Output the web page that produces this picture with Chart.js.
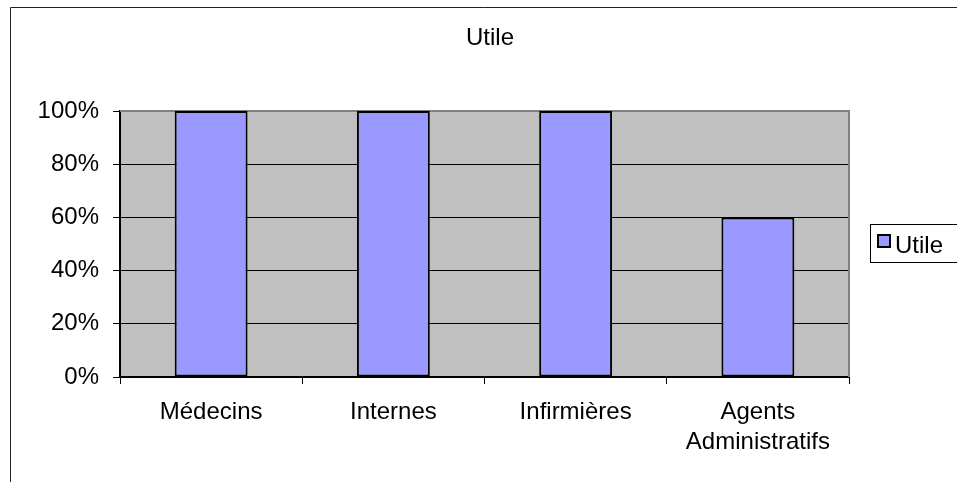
<!DOCTYPE html>
<html>
<head>
<meta charset="utf-8">
<script src="https://cdn.jsdelivr.net/npm/chart.js@4/dist/chart.umd.min.js"></script>
<style>
  html, body { margin: 0; padding: 0; background: #fff; }
  #wrap { width: 957px; height: 482px; position: relative; }
</style>
</head>
<body>
<div id="wrap"><canvas id="c" width="957" height="482"></canvas></div>
<script>
const chartTitle = 'Utile';
const categories = ['Médecins', 'Internes', 'Infirmières', ['Agents', 'Administratifs']];
const seriesName = 'Utile';
const seriesValues = [1.0, 1.0, 1.0, 0.6];
const yTicks = [0, 0.2, 0.4, 0.6, 0.8, 1.0];

const FONT = "Arial, 'Liberation Sans', sans-serif";
const FONT_SIZE = 24;
const BAR_FILL = '#9999FF';
const PLOT_BG = '#C0C0C0';

// Plot background, frame, title and legend box drawn around the Chart.js scales
const decor = {
  id: 'decor',
  beforeDraw(chart) {
    const { ctx, chartArea: a } = chart;
    ctx.save();
    ctx.fillStyle = '#fff';
    ctx.fillRect(0, 0, chart.width, chart.height);
    ctx.fillStyle = PLOT_BG;
    ctx.fillRect(a.left, a.top, a.right - a.left, a.bottom - a.top);
    ctx.restore();
  },
  beforeDatasetsDraw(chart) {
    const { ctx, chartArea: a } = chart;
    ctx.save();
    ctx.strokeStyle = '#808080';
    ctx.lineWidth = 2;
    ctx.beginPath();
    ctx.moveTo(a.left, a.top);
    ctx.lineTo(a.right, a.top);
    ctx.lineTo(a.right, a.bottom);
    ctx.stroke();
    ctx.restore();
  },
  afterDraw(chart) {
    const { ctx } = chart;
    ctx.save();
    // outer frame
    ctx.strokeStyle = '#222';
    ctx.lineWidth = 1;
    ctx.beginPath();
    ctx.moveTo(10.5, chart.height);
    ctx.lineTo(10.5, 7.5);
    ctx.lineTo(chart.width, 7.5);
    ctx.stroke();
    // title
    ctx.fillStyle = '#000';
    ctx.font = FONT_SIZE + 'px ' + FONT;
    ctx.textAlign = 'center';
    ctx.textBaseline = 'alphabetic';
    ctx.fillText(chartTitle, 490, 45);
    // legend
    ctx.strokeStyle = '#000';
    ctx.lineWidth = 1;
    ctx.strokeRect(870.5, 224.5, 100, 38);
    ctx.fillStyle = BAR_FILL;
    ctx.fillRect(878, 235, 12, 12);
    ctx.lineWidth = 2;
    ctx.strokeRect(878, 235, 12, 12);
    ctx.fillStyle = '#000';
    ctx.textAlign = 'left';
    ctx.fillText(chart.data.datasets[0].label, 895, 253);
    ctx.restore();
  }
};

new Chart(document.getElementById('c'), {
  type: 'bar',
  data: {
    labels: categories,
    datasets: [{
      label: seriesName,
      data: seriesValues,
      backgroundColor: BAR_FILL,
      borderColor: '#000',
      borderWidth: 2,
      borderSkipped: false,
      categoryPercentage: 1.0,
      barPercentage: 0.4
    }]
  },
  options: {
    responsive: false,
    animation: false,
    devicePixelRatio: 1,
    layout: { padding: { left: 10, right: 108, top: 111, bottom: 0 } },
    plugins: {
      legend: { display: false },
      title: { display: false },
      tooltip: { enabled: false }
    },
    scales: {
      x: {
        offset: true,
        grid: {
          offset: true,
          drawOnChartArea: false,
          drawTicks: true,
          tickLength: 7,
          tickColor: '#000',
          color: '#000'
        },
        border: { display: true, color: '#000', width: 2 },
        ticks: {
          color: '#000',
          padding: 13,
          maxRotation: 0,
          autoSkip: false,
          font: { family: FONT, size: FONT_SIZE, lineHeight: 1.25 }
        },
        afterFit(scale) { scale.height = 105; }
      },
      y: {
        min: 0,
        max: 1,
        afterBuildTicks(scale) { scale.ticks = yTicks.map(v => ({ value: v })); },
        grid: {
          color: '#000',
          lineWidth: 1,
          drawTicks: true,
          tickLength: 7,
          tickColor: '#000'
        },
        border: { display: true, color: '#000', width: 2 },
        ticks: {
          color: '#000',
          padding: 14,
          font: { family: FONT, size: FONT_SIZE },
          callback: v => Math.round(v * 100) + '%'
        },
        afterFit(scale) { scale.width = 110; }
      }
    }
  },
  plugins: [decor]
});
</script>
</body>
</html>
